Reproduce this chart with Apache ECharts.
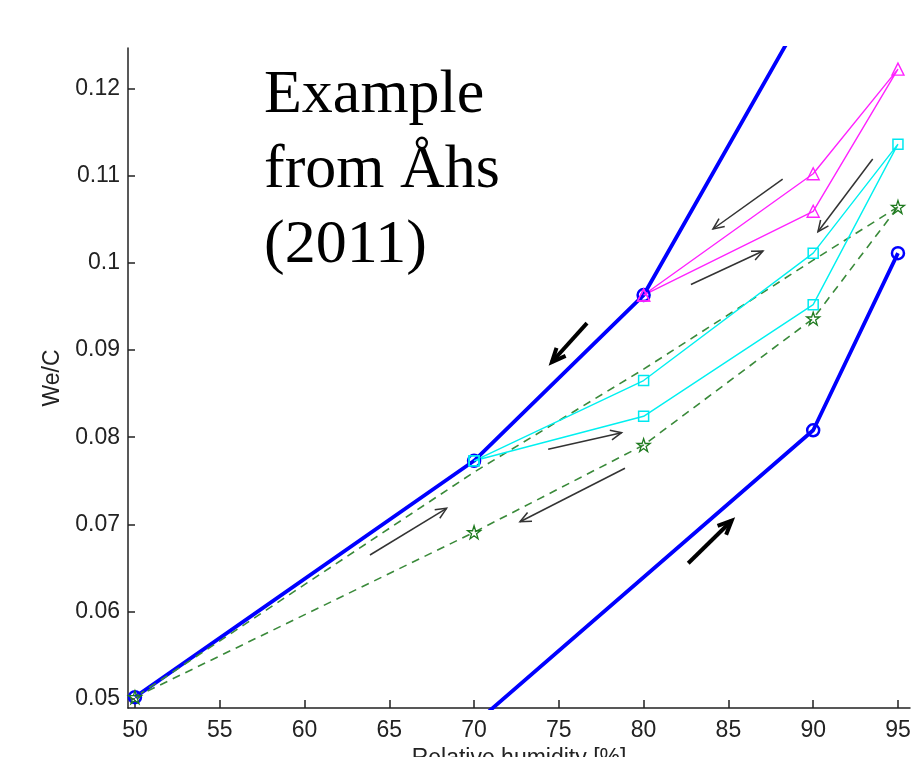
<!DOCTYPE html>
<html>
<head>
<meta charset="utf-8">
<script src="https://cdn.jsdelivr.net/npm/echarts@6/dist/echarts.min.js"></script>
<style>
  html, body { margin: 0; padding: 0; background: #fff; }
  #chart { width: 912px; height: 757px; }
</style>
</head>
<body>
<div id="chart"></div>
<script>
// tick labels
var xTicks = [50, 55, 60, 65, 70, 75, 80, 85, 90, 95];
var yTicks = [0.05, 0.06, 0.07, 0.08, 0.09, 0.1, 0.11, 0.12];

// blue boundary curves (marker flag per point)
var blueDesorp = [[50, 0.0502], [70, 0.0773], [80, 0.0963], [90, 0.1305]];
var blueDesorpMark = [true, true, true, false];
var blueAdsorp = [[70, 0.0471], [90, 0.0808], [95, 0.1011]];
var blueAdsorpMark = [false, true, true];

// scanning loops
var magentaLoop = [[80, 0.0963], [90, 0.1059], [95, 0.1222], [90, 0.1102], [80, 0.0963]];
var cyanLoop = [[70, 0.0773], [80, 0.0824], [90, 0.0952], [95, 0.1136], [90, 0.1011], [80, 0.0865], [70, 0.0773]];
var greenLower = [[50, 0.0502], [70, 0.0691], [80, 0.0791], [90, 0.0936], [95, 0.1064]];
var greenUpper = [[95, 0.1064], [90, 0.1003], [80, 0.0878], [70, 0.0760], [50, 0.0502]];

// arrows: x1, y1, x2, y2, width
var arrows = [
    [76.66, 0.09309, 74.59, 0.08862, 4],
    [82.63, 0.06555, 85.19, 0.07043, 4],
    [88.20, 0.1096, 84.09, 0.10387, 1.5],
    [93.51, 0.11189, 90.28, 0.10356, 1.5],
    [82.79, 0.09751, 87.04, 0.10135, 1.5],
    [74.37, 0.07861, 78.70, 0.08052, 1.5],
    [78.90, 0.07644, 72.71, 0.07031, 1.5],
    [63.86, 0.06650, 68.38, 0.07185, 1.5]
];

var starPath = 'path://M50,2 L61,36 L97,36 L68,57 L79,92 L50,71 L21,92 L32,57 L3,36 L39,36 Z';
var sans = 'Liberation Sans';

function withMarks(pts, flags) {
    return pts.map(function (p, i) {
        return flags[i] ? {value: p} : {value: p, symbol: 'none'};
    });
}

var chart = echarts.init(document.getElementById('chart'));

var option = {
    animation: false,
    backgroundColor: '#fff',
    grid: {left: 128, top: 48, right: 2, bottom: 49, containLabel: false, outerBoundsMode: 'none'},
    graphic: [{
        type: 'text',
        left: 264,
        top: 58,
        style: {
            text: 'Example\nfrom Åhs\n(2011)',
            font: '62px "Liberation Serif"',
            lineHeight: 75,
            fill: '#000'
        }
    }],
    xAxis: {
        type: 'value',
        min: 49.59,
        max: 95.71,
        name: 'Relative humidity [%]',
        nameLocation: 'middle',
        nameGap: 37,
        nameTextStyle: {fontFamily: sans, fontSize: 23, color: '#222'},
        axisLine: {lineStyle: {color: '#222', width: 1.5}},
        axisTick: {inside: true, length: 8, customValues: xTicks, lineStyle: {color: '#222', width: 1.5}},
        axisLabel: {customValues: xTicks, margin: 11, fontFamily: sans, fontSize: 23, color: '#222'},
        splitLine: {show: false}
    },
    yAxis: {
        type: 'value',
        min: 0.04896,
        max: 0.12462,
        name: 'We/C',
        nameLocation: 'middle',
        nameGap: 62,
        nameRotate: 90,
        nameTextStyle: {fontFamily: sans, fontSize: 23, color: '#222'},
        axisLine: {show: true, lineStyle: {color: '#222', width: 1.5}},
        axisTick: {show: true, inside: true, length: 7, customValues: yTicks, lineStyle: {color: '#222', width: 1.5}},
        axisLabel: {
            customValues: yTicks, margin: 8, fontFamily: sans, fontSize: 23, color: '#222',
            formatter: function (v) { return String(Math.round(v * 100) / 100); }
        },
        splitLine: {show: false}
    },
    series: [
        {
            type: 'line', data: withMarks(blueDesorp, blueDesorpMark),
            symbol: 'circle', symbolSize: 12, showAllSymbol: true,
            lineStyle: {color: '#0000ff', width: 3.8},
            itemStyle: {color: 'rgba(0,0,0,0)', borderColor: '#0000ff', borderWidth: 2.5}
        },
        {
            type: 'line', data: withMarks(blueAdsorp, blueAdsorpMark),
            symbol: 'circle', symbolSize: 12, showAllSymbol: true,
            lineStyle: {color: '#0000ff', width: 3.8},
            itemStyle: {color: 'rgba(0,0,0,0)', borderColor: '#0000ff', borderWidth: 2.5}
        },
        {
            type: 'line', data: greenUpper, symbol: 'none',
            lineStyle: {color: '#3a8a3a', width: 1.6, type: [8, 6]}
        },
        {
            type: 'line', data: greenLower, symbol: starPath, symbolSize: 13, showAllSymbol: true,
            lineStyle: {color: '#3a8a3a', width: 1.6, type: [8, 6]},
            itemStyle: {color: 'rgba(0,0,0,0)', borderColor: '#1f7a1f', borderWidth: 1.3}
        },
        {
            type: 'line', data: cyanLoop, symbol: 'rect', symbolSize: 10, showAllSymbol: true,
            lineStyle: {color: '#00f0f0', width: 1.4},
            itemStyle: {color: 'rgba(0,0,0,0)', borderColor: '#00e8f0', borderWidth: 1.5}
        },
        {
            type: 'line', data: magentaLoop, symbol: 'triangle', symbolSize: 12, showAllSymbol: true,
            lineStyle: {color: '#ff22ff', width: 1.4},
            itemStyle: {color: 'rgba(0,0,0,0)', borderColor: '#ff22ff', borderWidth: 1.4}
        },
        {
            type: 'custom',
            data: arrows,
            encode: {x: [0, 2], y: [1, 3]},
            renderItem: function (params, api) {
                var p1 = api.coord([api.value(0), api.value(1)]);
                var p2 = api.coord([api.value(2), api.value(3)]);
                var w = api.value(4);
                var col = w > 2 ? '#000' : '#333';
                var ang = Math.atan2(p2[1] - p1[1], p2[0] - p1[0]);
                var len = w > 2 ? 15 : 12, spread = 0.42;
                var h1 = [p2[0] - len * Math.cos(ang - spread), p2[1] - len * Math.sin(ang - spread)];
                var h2 = [p2[0] - len * Math.cos(ang + spread), p2[1] - len * Math.sin(ang + spread)];
                return {
                    type: 'group',
                    children: [
                        {type: 'polyline', shape: {points: [p1, p2]}, style: {stroke: col, lineWidth: w, fill: null}},
                        {type: 'polyline', shape: {points: [h1, p2, h2]}, style: {stroke: col, lineWidth: w, fill: null, lineJoin: 'miter'}}
                    ]
                };
            }
        }
    ]
};

chart.setOption(option);
</script>
</body>
</html>
